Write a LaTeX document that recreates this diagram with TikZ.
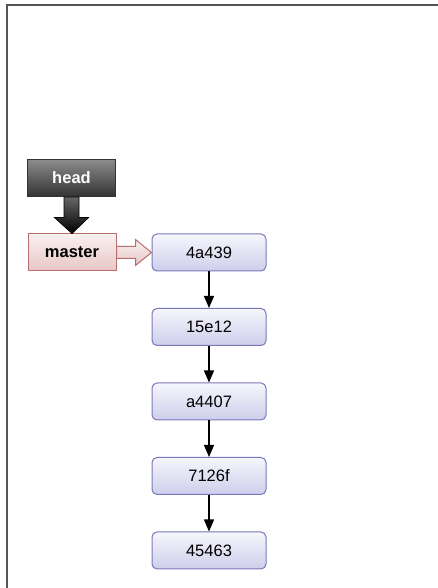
\documentclass[tikz,border=0pt]{standalone}
\usepackage{fontspec}
\setmainfont{Liberation Sans}
\usepackage{tikz}
\usetikzlibrary{arrows.meta, positioning, calc}
\definecolor{commitborder}{RGB}{122, 120, 184}
\definecolor{committop}{RGB}{246, 246, 252}
\definecolor{commitbottom}{RGB}{206, 206, 236}
\definecolor{branchborder}{RGB}{184, 110, 110}
\definecolor{branchtop}{RGB}{250, 240, 240}
\definecolor{branchbottom}{RGB}{232, 198, 198}
\definecolor{headtop}{RGB}{140, 140, 140}
\definecolor{headbottom}{RGB}{50, 50, 50}
\definecolor{framegray}{RGB}{85, 85, 85}

\begin{document}
\begin{tikzpicture}[
    x=1pt, y=1pt,
    node distance=36.5pt,
    commit/.style={draw=commitborder, line width=1pt, rounded corners=5pt, top color=committop, bottom color=commitbottom, minimum width=114pt, minimum height=37pt, font=\fontsize{16.5}{19}\selectfont},
    branch/.style={draw=branchborder, line width=1pt, top color=branchtop, bottom color=branchbottom, minimum width=88pt, minimum height=37pt, font=\fontsize{16.5}{19}\selectfont\bfseries},
    headbox/.style={draw=black!80, line width=1pt, top color=headtop, bottom color=headbottom, text=white, minimum width=88pt, minimum height=37pt, font=\fontsize{16.5}{19}\selectfont\bfseries},
    arrow/.style={-{Triangle[width=10pt, length=12pt]}, line width=1.2pt}
]
\useasboundingbox (0,0) rectangle (438,588);
\draw[framegray, line width=1.5pt] (7,0) -- (7,583) -- (438,583);

\node[headbox] (head) at (71.5,410) {head};
\node[branch] (master) at (72,335.5) {master};

\node[commit] (c1) at (209,335.5) {4a439};
\node[commit, below=of c1] (c2) {15e12};
\node[commit, below=of c2] (c3) {a4407};
\node[commit, below=of c3] (c4) {7126f};
\node[commit, below=of c4] (c5) {45463};

% head points to master
\path[draw=black, line width=0.8pt, top color=black!60, bottom color=black]
    ($(head.south)+(-7.5,0)$) -- ++(0,-20.5) -- ++(-9.5,0)
    -- (master.north) -- ($(head.south)+(17,-20.5)$) -- ++(-9.5,0)
    -- ($(head.south)+(7.5,0)$) -- cycle;

% master points to 4a439
\path[draw=branchborder, line width=1pt, top color=branchtop, bottom color=branchbottom]
    ($(master.east)+(0,6)$) -- ($(master.east)+(19,6)$) -- ++(0,7)
    -- (c1.west) -- ($(master.east)+(19,-13)$) -- ++(0,7)
    -- ($(master.east)+(0,-6)$) -- cycle;

\foreach \a/\b in {c1/c2, c2/c3, c3/c4, c4/c5}
    \draw[arrow] (\a) -- (\b);

\end{tikzpicture}
\end{document}
